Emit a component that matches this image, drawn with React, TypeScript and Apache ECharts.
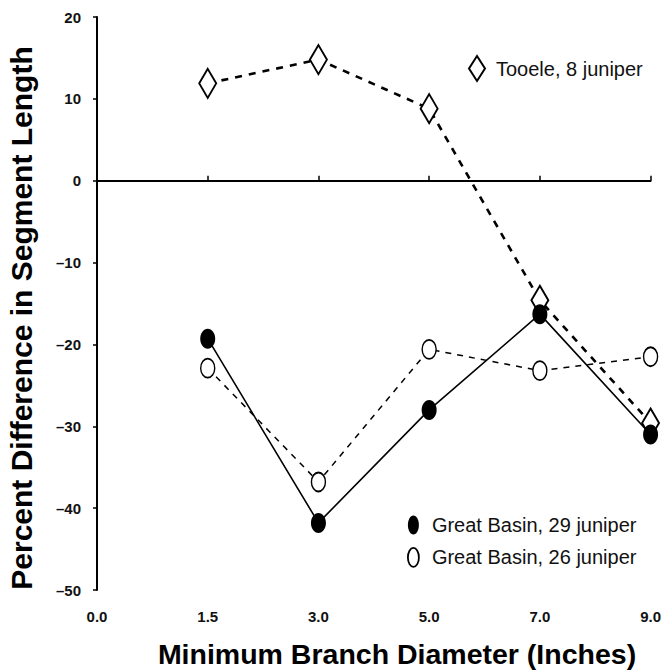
import React, { useEffect, useRef } from "react";
import * as echarts from "echarts";

const categories = ["0.0", "1.5", "3.0", "5.0", "7.0", "9.0"];
const tooele = [null, 11.9, 14.8, 8.8, -14.6, -29.6];
const greatBasin29 = [null, -19.3, -41.8, -28.0, -16.3, -31.0];
const greatBasin26 = [null, -22.9, -36.8, -20.6, -23.2, -21.5];
const seriesNames = ["Tooele, 8 juniper", "Great Basin, 29 juniper", "Great Basin, 26 juniper"];
const xTitle = "Minimum Branch Diameter (Inches)";
const yTitle = "Percent Difference in Segment Length";

const FONT = "'Liberation Sans', Arial, Helvetica, sans-serif";
const ELLIPSE =
  "path://M0,-1 C0.552,-1 1,-0.552 1,0 C1,0.552 0.552,1 0,1 C-0.552,1 -1,0.552 -1,0 C-1,-0.552 -0.552,-1 0,-1 Z";

export default function App() {
  const ref = useRef<HTMLDivElement>(null);
  useEffect(() => {
    if (!ref.current) return;
    const chart = echarts.init(ref.current, undefined, { renderer: "svg" });
    chart.setOption({
      animation: false,
      backgroundColor: "#fff",
      grid: { left: 97, right: 9, top: 17, bottom: 81, containLabel: false },
      xAxis: {
        type: "category",
        data: categories,
        boundaryGap: false,
        axisLine: { show: true, lineStyle: { color: "#000", width: 2 } },
        axisTick: { show: true, inside: true, length: 5, lineStyle: { color: "#000", width: 1.5 } },
        axisLabel: { color: "#111", fontSize: 15, fontWeight: "bold", fontFamily: FONT, margin: 19 },
        splitLine: { show: false },
      },
      yAxis: {
        type: "value",
        min: -50,
        max: 20,
        interval: 10,
        axisLine: { show: true, lineStyle: { color: "#000", width: 2 } },
        axisTick: { show: true, inside: false, length: 4, lineStyle: { color: "#000", width: 1.5 } },
        axisLabel: {
          color: "#111",
          fontSize: 15,
          fontWeight: "bold",
          fontFamily: FONT,
          margin: 16,
          formatter: (v: number) => String(v).replace("-", "\u2013"),
        },
        splitLine: { show: false },
      },
      legend: [
        {
          left: 463,
          top: 50,
          itemWidth: 16,
          itemHeight: 25,
          symbolKeepAspect: false,
          textStyle: { fontSize: 20, fontFamily: FONT, color: "#111", padding: [0, 0, 0, 6] },
          data: [
            {
              name: seriesNames[0],
              icon: "diamond",
              itemStyle: { color: "#fff", borderColor: "#000", borderWidth: 2 },
            },
          ],
        },
        {
          left: 402,
          top: 510,
          orient: "vertical",
          itemGap: 12,
          itemWidth: 11,
          itemHeight: 19,
          symbolKeepAspect: false,
          textStyle: { fontSize: 20, fontFamily: FONT, color: "#111", padding: [0, 0, 0, 8] },
          data: [
            {
              name: seriesNames[1],
              icon: ELLIPSE,
              itemStyle: { color: "#000", borderColor: "#000", borderWidth: 0 },
            },
            {
              name: seriesNames[2],
              icon: ELLIPSE,
              itemStyle: { color: "#fff", borderColor: "#000", borderWidth: 1.8 },
            },
          ],
        },
      ],
      graphic: [
        {
          type: "text",
          x: 397,
          y: 654,
          style: {
            text: xTitle,
            font: `bold 28.5px ${FONT}`,
            fill: "#000",
            textAlign: "center",
            textVerticalAlign: "middle",
          },
        },
        {
          type: "text",
          x: 21,
          y: 318,
          rotation: Math.PI / 2,
          style: {
            text: yTitle,
            font: `bold 30px ${FONT}`,
            fill: "#000",
            textAlign: "center",
            textVerticalAlign: "middle",
          },
        },
      ],
      series: [
        {
          name: seriesNames[2],
          type: "line",
          data: greatBasin26,
          symbol: ELLIPSE,
          symbolSize: [14, 19],
          symbolKeepAspect: false,
          lineStyle: { color: "#000", width: 1.5, type: [6, 6] },
          itemStyle: { color: "#fff", borderColor: "#000", borderWidth: 1.6 },
          z: 3,
        },
        {
          name: seriesNames[0],
          type: "line",
          data: tooele,
          symbol: "diamond",
          symbolSize: [17, 29],
          lineStyle: { color: "#000", width: 2.6, type: [7, 7] },
          itemStyle: { color: "#fff", borderColor: "#000", borderWidth: 2 },
          z: 4,
          markLine: {
            silent: true,
            symbol: ["none", "none"],
            label: { show: false },
            lineStyle: { color: "#000", width: 1.5, type: "solid" },
            data: [{ yAxis: 0 }],
          },
        },
        {
          name: seriesNames[1],
          type: "line",
          data: greatBasin29,
          symbol: ELLIPSE,
          symbolSize: [15, 20],
          symbolKeepAspect: false,
          showSymbol: true,
          lineStyle: { color: "#000", width: 1.6, type: "solid" },
          itemStyle: { color: "#000", borderColor: "#000", borderWidth: 0 },
          z: 5,
        },
      ],
    });
    return () => chart.dispose();
  }, []);
  return (
    <div
      ref={ref}
      style={{ position: "fixed", left: 0, top: 0, width: 664, height: 671, background: "#fff" }}
    />
  );
}
